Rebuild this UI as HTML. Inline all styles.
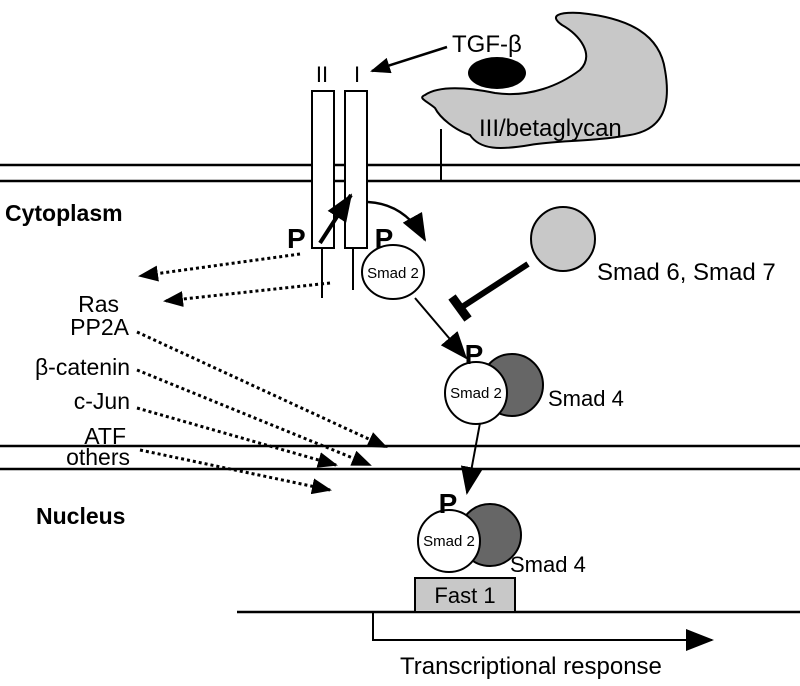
<!DOCTYPE html>
<html><head><style>body{margin:0;background:#fff}svg{display:block}text{font-family:"Liberation Sans",sans-serif}</style></head>
<body>
<svg width="800" height="686" viewBox="0 0 800 686" xmlns="http://www.w3.org/2000/svg">
<defs>
<marker id="ahs" markerWidth="20" markerHeight="16" refX="18" refY="8" orient="auto" markerUnits="userSpaceOnUse"><path d="M0,0 L20,8 L0,16z" fill="#000"/></marker>
<marker id="ahb" markerWidth="28" markerHeight="22" refX="26" refY="11" orient="auto" markerUnits="userSpaceOnUse"><path d="M0,0 L28,11 L0,22z" fill="#000"/></marker>
</defs>
<g stroke="#000" stroke-width="2.5">
<line x1="0" y1="165" x2="800" y2="165"/><line x1="0" y1="181" x2="800" y2="181"/>
<line x1="0" y1="446" x2="800" y2="446"/><line x1="0" y1="469" x2="800" y2="469"/>
<line x1="237" y1="612" x2="800" y2="612"/>
</g>
<path d="M425,95 C440,85 470,88 495,93 C530,98 560,85 580,70 C595,55 580,35 562,25 C548,15 560,12 580,13 C630,18 660,35 665,70 C672,110 660,130 630,135 C590,142 560,140 530,145 C500,150 480,150 470,135 C455,130 440,118 435,108 C425,100 418,98 425,95Z" fill="#c8c8c8" stroke="#000" stroke-width="2"/>
<text x="479" y="136" font-size="24">III/betaglycan</text>
<line x1="441" y1="129" x2="441" y2="181" stroke="#000" stroke-width="2"/>
<ellipse cx="497" cy="73" rx="29" ry="16" fill="#000"/>
<text x="452" y="52" font-size="24">TGF-β</text>
<line x1="447" y1="47" x2="372" y2="71" stroke="#000" stroke-width="2.5" marker-end="url(#ahs)"/>
<text x="322" y="82" font-size="22" text-anchor="middle">II</text>
<text x="357" y="82" font-size="22" text-anchor="middle">I</text>
<rect x="312" y="91" width="22" height="157" fill="#fff" stroke="#000" stroke-width="2"/>
<rect x="345" y="91" width="22" height="157" fill="#fff" stroke="#000" stroke-width="2"/>
<line x1="322" y1="248" x2="322" y2="298" stroke="#000" stroke-width="2"/>
<line x1="353" y1="248" x2="353" y2="290" stroke="#000" stroke-width="2"/>
<line x1="320" y1="243" x2="351" y2="195" stroke="#000" stroke-width="4" marker-end="url(#ahb)"/>
<path d="M368,202 Q405,204 425,240" fill="none" stroke="#000" stroke-width="2.5" marker-end="url(#ahb)"/>
<text x="287" y="248" font-size="28" font-weight="bold">P</text>
<ellipse cx="393" cy="272" rx="31" ry="27" fill="#fff" stroke="#000" stroke-width="2"/>
<text x="393" y="278" font-size="15" text-anchor="middle">Smad 2</text>
<text x="384" y="248" font-size="28" font-weight="bold" text-anchor="middle">P</text>
<circle cx="563" cy="239" r="32" fill="#c8c8c8" stroke="#000" stroke-width="2"/>
<text x="597" y="280" font-size="24">Smad 6, Smad 7</text>
<line x1="528" y1="264" x2="462" y2="307" stroke="#000" stroke-width="6"/>
<line x1="452" y1="297" x2="468" y2="319" stroke="#000" stroke-width="9"/>
<line x1="415" y1="298" x2="466" y2="358" stroke="#000" stroke-width="2" marker-end="url(#ahb)"/>
<circle cx="512" cy="385" r="31" fill="#666" stroke="#000" stroke-width="2"/>
<circle cx="476" cy="393" r="31" fill="#fff" stroke="#000" stroke-width="2"/>
<text x="476" y="398" font-size="15" text-anchor="middle">Smad 2</text>
<text x="474" y="364" font-size="28" font-weight="bold" text-anchor="middle">P</text>
<text x="548" y="406" font-size="22">Smad 4</text>
<line x1="480" y1="423" x2="467" y2="493" stroke="#000" stroke-width="2" marker-end="url(#ahb)"/>
<circle cx="490" cy="535" r="31" fill="#666" stroke="#000" stroke-width="2"/>
<circle cx="449" cy="541" r="31" fill="#fff" stroke="#000" stroke-width="2"/>
<text x="449" y="546" font-size="15" text-anchor="middle">Smad 2</text>
<text x="448" y="513" font-size="28" font-weight="bold" text-anchor="middle">P</text>
<text x="510" y="572" font-size="22">Smad 4</text>
<rect x="415" y="578" width="100" height="34" fill="#c8c8c8" stroke="#000" stroke-width="2"/>
<text x="465" y="603" font-size="22" text-anchor="middle">Fast 1</text>
<polyline points="373,612 373,640 712,640" fill="none" stroke="#000" stroke-width="2" marker-end="url(#ahb)"/>
<text x="400" y="674" font-size="24">Transcriptional response</text>
<text x="5" y="221" font-size="23" font-weight="bold">Cytoplasm</text>
<text x="36" y="524" font-size="23" font-weight="bold">Nucleus</text>
<g font-size="23" text-anchor="end">
<text x="119" y="312">Ras</text><text x="129" y="335">PP2A</text>
<text x="130" y="375">β-catenin</text><text x="130" y="409">c-Jun</text>
<text x="126" y="444">ATF</text><text x="130" y="465">others</text>
</g>
<g stroke="#000" stroke-width="3" stroke-dasharray="3,3" fill="none">
<line x1="300" y1="254" x2="140" y2="276" marker-end="url(#ahs)"/>
<line x1="330" y1="283" x2="165" y2="301" marker-end="url(#ahs)"/>
<line x1="137" y1="332" x2="386" y2="447" marker-end="url(#ahs)"/>
<line x1="137" y1="370" x2="370" y2="465" marker-end="url(#ahs)"/>
<line x1="137" y1="408" x2="336" y2="465" marker-end="url(#ahs)"/>
<line x1="140" y1="450" x2="330" y2="490" marker-end="url(#ahs)"/>
</g>
</svg>
</body></html>
